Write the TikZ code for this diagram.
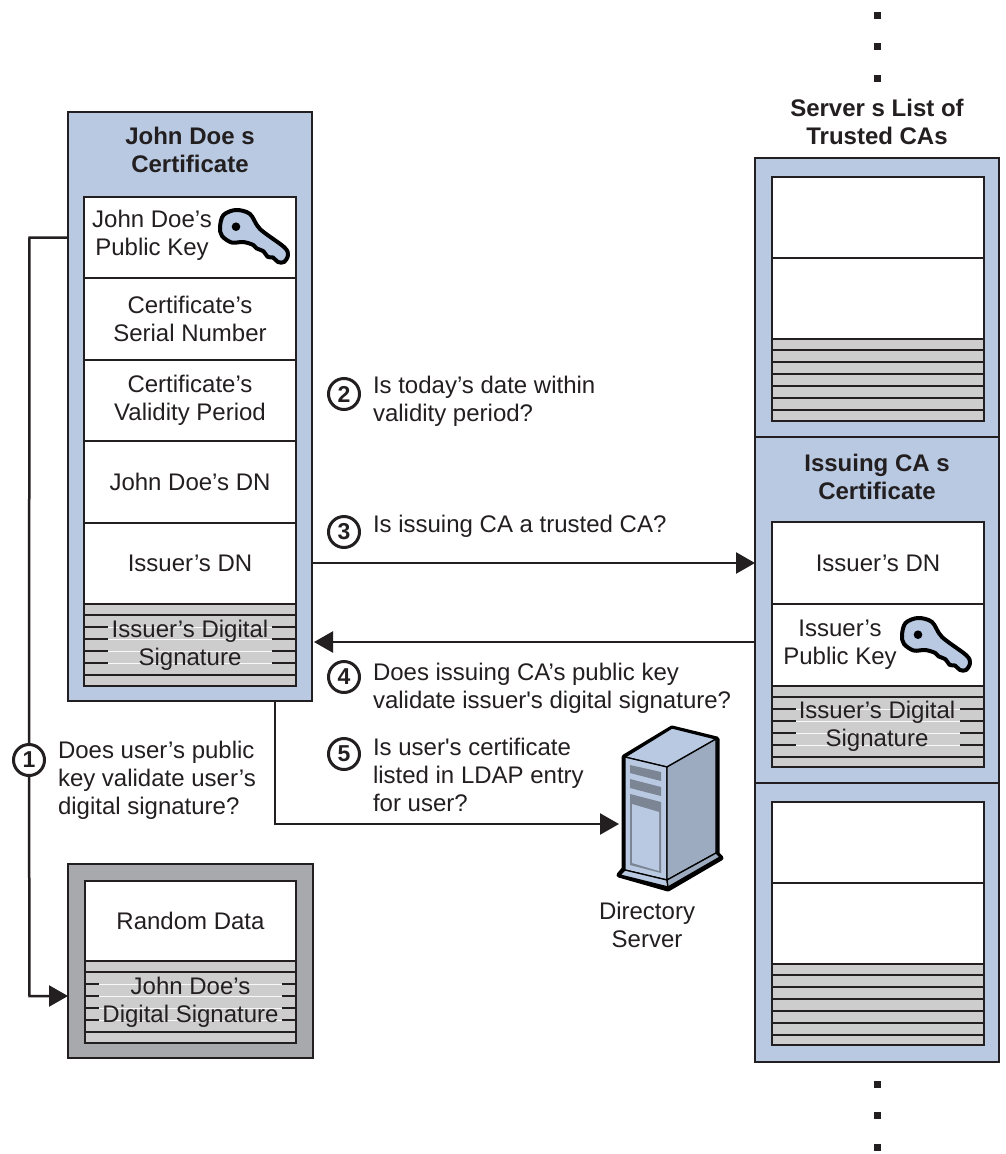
\documentclass[tikz,border=0pt]{standalone}
\usepackage{fontspec}
\setmainfont{Liberation Sans}
\usetikzlibrary{arrows.meta}
\definecolor{inkc}{HTML}{231F20}
\definecolor{bluec}{HTML}{B8C9E1}
\definecolor{stripec}{HTML}{CDCDCD}
\definecolor{greyc}{HTML}{A7A9AC}
\definecolor{keyc}{HTML}{B8C9E1}
\tikzset{
  outerbox/.style={draw=inkc,line width=2.8pt,fill=bluec,inner sep=0pt,outer sep=0pt},
  greybox/.style={outerbox,fill=greyc},
  rowbox/.style={draw=inkc,line width=2.7pt,fill=white,inner sep=0pt,outer sep=0pt,align=center,text=inkc,font=\bodyfont},
  sigbox/.style={rowbox,fill=stripec},
  txt/.style={inner sep=0pt,outer sep=0pt,align=center,text=inkc,font=\bodyfont},
  ltxt/.style={inner sep=0pt,outer sep=0pt,align=left,text=inkc,font=\bodyfont,anchor=north west},
  btxt/.style={inner sep=0pt,outer sep=0pt,align=center,text=inkc,font=\boldbodyfont},
  conn/.style={draw=inkc,line width=2.5pt,-{Triangle[length=19pt,width=21pt]},line join=miter},
  numdisc/.style={circle,draw=inkc,line width=3pt,fill=white,minimum size=31pt,inner sep=0pt,outer sep=0pt,text=inkc,font=\numfont},
  dotmark/.style={fill=inkc,minimum size=7pt,inner sep=0pt,outer sep=0pt,rectangle},
  srvline/.style={draw=black,line width=1.3pt,line join=round},
  keyicon/.pic={
    \draw[draw=black,fill=keyc,line width=4pt,line join=round]
      plot[smooth cycle,tension=0.55] coordinates {(5,22)(8.5,10)(21,5)(35,9)(45,24)(69,42)(73,50)(69,57)(63,57)(58,52.5)(53,52)(48,46)(41.7,43.5)(38.3,40)(28.3,37)(16.7,37.5)(7,31)};
    \fill[black] (21,21.7) circle (4.3);
  }
}
\newcommand{\bodyfont}{\fontsize{24}{27.8}\selectfont}
\newcommand{\boldbodyfont}{\fontsize{24}{27.6}\selectfont\bfseries}
\newcommand{\numfont}{\fontsize{23}{24}\selectfont\bfseries}
% \pbox{style}{name}{x1}{y1}{x2}{y2}{text}
\newcommand{\pbox}[7]{\node[#1,minimum width={(#5)-(#3)},minimum height={(#6)-(#4)}] (#2) at ({((#3)+(#5))/2},{((#4)+(#6))/2}) {#7};}
% \sigstripes{x1}{ytop}{x2}{inset}: ruled lines; the middle four are pale under the text
\newcommand{\sigstripes}[4]{%
  \foreach \dy in {11,71} {\draw[inkc,line width=1.2pt] (#1,{#2+\dy}) -- (#3,{#2+\dy});}
  \foreach \dy in {23,35,47,59} {
    \draw[white!85!stripec,line width=0.9pt] ({#1+#4},{#2+\dy}) -- ({#3-#4},{#2+\dy});
    \draw[inkc,line width=1.2pt] (#1,{#2+\dy}) -- ({#1+#4},{#2+\dy});
    \draw[inkc,line width=1.2pt] ({#3-#4},{#2+\dy}) -- (#3,{#2+\dy});
  }
}
\newcommand{\plainstripes}[3]{%
  \foreach \dy in {11,23,35,47,59,71} {\draw[inkc,line width=1.2pt] (#1,{#2+\dy}) -- (#3,{#2+\dy});}
}
\begin{document}
\begin{tikzpicture}[x=1pt,y=-1pt]
\useasboundingbox (0,0) rectangle (1006,1154);
\fill[white] (0,0) rectangle (1006,1154);

% John Doe's certificate
\pbox{outerbox}{jd}{68}{112}{312}{701}{}
\node[btxt] (jdtitle) at (190,150) {John Doe s\\Certificate};
\pbox{rowbox}{jdpk}{84}{197}{296}{278}{}
\pbox{rowbox}{jdsn}{84}{278}{296}{360}{Certificate’s\\Serial Number}
\pbox{rowbox}{jdvp}{84}{360}{296}{441}{Certificate’s\\Validity Period}
\pbox{rowbox}{jddn}{84}{441}{296}{523}{John Doe’s DN}
\pbox{rowbox}{jdin}{84}{523}{296}{604}{Issuer’s DN}
\pbox{sigbox}{jdsig}{84}{604}{296}{686}{}
\sigstripes{84}{604}{296}{24}
\node[txt] (jdsigt) at (190,645.5) {Issuer’s Digital\\Signature};
\node[txt] (jdpkt) at (152,235) {John Doe’s\\Public Key};
\pic (jdkey) at (215,205) {keyicon};

% Random data
\pbox{greybox}{rd}{68}{864}{313}{1058}{}
\pbox{rowbox}{rdtop}{85}{881}{296}{961}{Random Data}
\pbox{sigbox}{rdsig}{85}{961}{296}{1043}{}
\sigstripes{85}{961}{296}{14}
\node[txt] (rdsigt) at (190.5,1002.5) {John Doe’s\\Digital Signature};

% Trusted CA stack
\pbox{outerbox}{sa}{755}{158}{999}{437}{}
\pbox{outerbox}{sb}{755}{437}{999}{783}{}
\pbox{outerbox}{sc}{755}{783}{999}{1062}{}
\node[btxt] (lt) at (877,122) {Server s List of\\Trusted CAs};
\pbox{rowbox}{sa1}{772}{177}{984}{258}{}
\pbox{rowbox}{sa2}{772}{258}{984}{339}{}
\pbox{sigbox}{sa3}{772}{339}{984}{421}{}
\plainstripes{772}{339}{984}
\node[btxt] (ictitle) at (877,477) {Issuing CA s\\Certificate};
\pbox{rowbox}{sb1}{772}{522}{984}{604}{Issuer’s DN}
\pbox{rowbox}{sb2}{772}{604}{984}{686}{}
\pbox{sigbox}{sb3}{772}{686}{984}{767}{}
\sigstripes{772}{686}{984}{24}
\node[txt] (sbsigt) at (877,726) {Issuer’s Digital\\Signature};
\node[txt] (sbpkt) at (840,645) {Issuer’s\\Public Key};
\pic (sbkey) at (897,613) {keyicon};
\pbox{rowbox}{sc1}{772}{802}{984}{883}{}
\pbox{rowbox}{sc2}{772}{883}{984}{964}{}
\pbox{sigbox}{sc3}{772}{964}{984}{1045}{}
\plainstripes{772}{964}{984}

% Dots
\foreach \n/\yy in {a/15,b/46,c/78,d/1084,e/1115,f/1147} {\node[dotmark] (dot\n) at (877,\yy) {};}

% Server icon
\filldraw[black,line width=5pt,line join=round] (624,757) -- (672,728) -- (717,739) -- (717,854) -- (721,858) -- (668,889) -- (619,875) -- (624,869) -- cycle;
\filldraw[fill=bluec,srvline] (625,757) -- (672,728) -- (716,739) -- (667,767) -- cycle;
\filldraw[fill=bluec,srvline] (625,757) -- (667,767) -- (667,880) -- (625,870) -- cycle;
\filldraw[fill=bluec!85!black,srvline] (667,767) -- (716,739) -- (716,853) -- (667,880) -- cycle;
\filldraw[fill=bluec,srvline] (625,870) -- (667,880) -- (668,887) -- (620,875) -- cycle;
\filldraw[fill=bluec!85!black,srvline] (667,880) -- (716,853) -- (720,857) -- (668,887) -- cycle;
\fill[bluec!60!inkc] (630,765) -- (661,772) -- (661,781) -- (630,773) -- cycle;
\fill[bluec!60!inkc] (630,779) -- (661,787) -- (661,796) -- (630,788) -- cycle;
\fill[bluec!60!inkc] (630,794) -- (661,802) -- (661,873) -- (630,865) -- cycle;
\fill[bluec] (632,804) -- (659,812) -- (659,871) -- (632,863) -- cycle;
\node[txt] (srvt) at (647,925) {Directory\\Server};

% Numbered question labels
\node[numdisc] (n1) at (29,760) {1};
\node[ltxt] (q1) at (58,741) {Does user’s public\\key validate user’s\\digital signature?};
\node[numdisc] (n2) at (344,394) {2};
\node[ltxt] (q2) at (373,376) {Is today’s date within\\validity period?};
\node[numdisc] (n3) at (344,532) {3};
\node[ltxt] (q3) at (373,515) {Is issuing CA a trusted CA?};
\node[numdisc] (n4) at (344,677) {4};
\node[ltxt] (q4) at (373,663) {Does issuing CA’s public key\\validate issuer\textquotesingle s digital signature?};
\node[numdisc] (n5) at (344,754) {5};
\node[ltxt] (q5) at (373,738) {Is user\textquotesingle s certificate\\listed in LDAP entry\\for user?};

% Connectors
\coordinate (c1a) at (29.5,237.5);
\coordinate (c1b) at (29.5,996);
\coordinate (c5a) at (275,824);
\coordinate (srvin) at (619,824);
\coordinate (c4a) at (755,642);
\coordinate (c4b) at (314,642);
\draw[conn,-] (jd.west |- jdpk.west) -- (c1a) -- (n1);
\draw[conn] (n1) -- (c1b) -- (rd.west |- c1b);
\draw[conn] (jd.east |- sb1.west) -- (sb.west |- sb1.west);
\draw[conn] (c4a) -- (c4b);
\draw[conn] (jd.south -| c5a) -- (c5a) -- (srvin);
\end{tikzpicture}
\end{document}
